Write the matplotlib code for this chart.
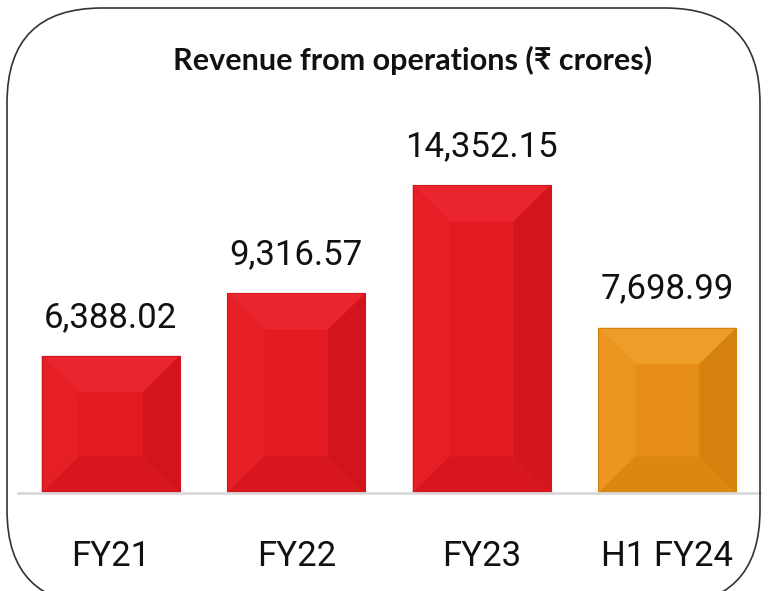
import matplotlib.pyplot as plt
import matplotlib.patches as mpatches
from matplotlib.transforms import IdentityTransform

years = ['FY21', 'FY22', 'FY23', 'H1 FY24']
revenue = [6388.02, 9316.57, 14352.15, 7698.99]
labels = ['6,388.02', '9,316.57', '14,352.15', '7,698.99']
# colours: face, top, left, right, bottom
red = ['#e31a22', '#ea252d', '#e61f27', '#d4141c', '#d8161e']
orange = ['#e68e18', '#ee9d28', '#ea951f', '#d6820e', '#da8811']
colours = [red, red, red, orange]

fig = plt.figure(figsize=(7.68, 5.91), dpi=100)
ax = fig.add_axes([18 / 768, 1 - 493 / 591, 742 / 768, 393 / 591])

bars = ax.bar(range(len(years)), revenue, width=0.744, color=[c[0] for c in colours])

# bevel faces drawn on top of each bar
for b, c in zip(bars, colours):
    x0, w, h = b.get_x(), b.get_width(), b.get_height()
    x1 = x0 + w
    dx = 0.2
    dy = min(1700, h * 0.3)
    ix0, ix1, iy0, iy1 = x0 + dx, x1 - dx, dy, h - dy
    faces = [
        ([(x0, h), (x1, h), (ix1, iy1), (ix0, iy1)], c[1]),
        ([(x0, 0), (x0, h), (ix0, iy1), (ix0, iy0)], c[2]),
        ([(x1, 0), (x1, h), (ix1, iy1), (ix1, iy0)], c[3]),
        ([(x0, 0), (x1, 0), (ix1, iy0), (ix0, iy0)], c[4]),
    ]
    for pts, col in faces:
        ax.add_patch(mpatches.Polygon(pts, closed=True, facecolor=col, edgecolor='none'))
    ax.add_patch(mpatches.Rectangle((x0, 0), w, h, fill=False, edgecolor=c[3], lw=0.8))

for b, t in zip(bars, labels):
    ax.annotate(t, (b.get_x() + b.get_width() / 2, b.get_height()), xytext=(0, 16),
                textcoords='offset points', ha='center', va='bottom',
                fontsize=25, family='Roboto', color='#111111')

ax.set_xlim(-0.5, 3.5)
ax.set_ylim(0, 18313)
ax.set_xticks(range(len(years)))
ax.set_xticklabels(years, fontsize=25, family='Roboto', color='#111111')
ax.tick_params(axis='x', length=0, pad=34)
ax.set_yticks([])
for s in ['top', 'right', 'left']:
    ax.spines[s].set_visible(False)
ax.spines['bottom'].set_color('#d9d9d9')
ax.spines['bottom'].set_linewidth(2)
ax.patch.set_alpha(0)

fig.text(413 / 768, 1 - 60 / 591, 'Revenue from operations (₹ crores)', ha='center', va='center',
         fontsize=22, fontweight='bold', family=['Lato', 'DejaVu Sans'], color='#111111')

frame = mpatches.FancyBboxPatch((7, -14), 753, 597, boxstyle='round,pad=0,rounding_size=95',
                                transform=IdentityTransform(), facecolor='none',
                                edgecolor='#333333', lw=1.2)
fig.patches.append(frame)

fig.savefig('out.png', dpi=100)
